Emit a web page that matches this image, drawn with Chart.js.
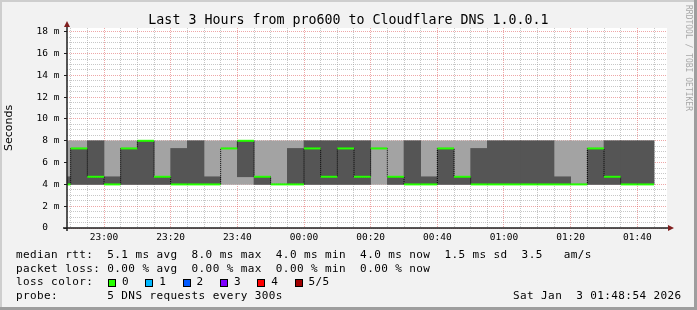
<!DOCTYPE html>
<html>
<head>
<meta charset="utf-8">
<script src="https://cdn.jsdelivr.net/npm/chart.js@4.4.1/dist/chart.umd.min.js"></script>
<style>
  body { margin: 0; background: #f2f2f2; }
  #wrap { position: relative; width: 697px; height: 310px; overflow: hidden; }
  #wrap canvas { position: absolute; left: 0; top: 0; }
  .txt { position: absolute; margin: 0; font-family: 'DejaVu Sans Mono', monospace; color: #000; white-space: pre; }
  #title { left: 0; width: 697px; top: 13px; text-align: center; font-size: 13.3px; line-height: 13.3px; }
  .row { left: 16px; font-size: 11px; line-height: 11px; letter-spacing: 0.4px; }
  #brand { left: 684px; top: 5px; font-size: 8px; line-height: 8px; color: #a8a8a8; writing-mode: vertical-rl; }
  .box { position: absolute; width: 6px; height: 6px; border: 1px solid #000; }
</style>
</head>
<body>
<div id="wrap">
  <canvas id="rtt" width="697" height="310"></canvas>
  <div class="txt" id="title">Last 3 Hours from pro600 to Cloudflare DNS 1.0.0.1</div>
  <div class="txt" id="brand">RRDTOOL / TOBI OETIKER</div>
  <div class="txt row" style="top:249px">median rtt:  5.1 ms avg  8.0 ms max  4.0 ms min  4.0 ms now  1.5 ms sd  3.5   am/s</div>
  <div class="txt row" style="top:262.7px">packet loss: 0.00 % avg  0.00 % max  0.00 % min  0.00 % now</div>
  <div class="txt row" style="top:276.4px">loss color:</div>
  <div class="txt row" style="top:290px">probe:       5 DNS requests every 300s</div>
  <div class="txt row" style="top:290px; left:513px">Sat Jan  3 01:48:54 2026</div>
  <div id="lossLegend"></div>
</div>
<script>
// 5 minute slots (start times) shown in the graph
const slots = ['22:45','22:50','22:55','23:00','23:05','23:10','23:15','23:20','23:25','23:30',
               '23:35','23:40','23:45','23:50','23:55','00:00','00:05','00:10','00:15','00:20',
               '00:25','00:30','00:35','00:40','00:45','00:50','00:55','01:00','01:05','01:10',
               '01:15','01:20','01:25','01:30','01:35','01:40'];
// smoke: outer band (min..max) and inner band, in ms
const minRtt = [4,4,4,4,4,4,4,4,4,4, 4,4,4,4,4,4,4,4,4,4, 4,4,4,4,4,4,4,4,4,4, 4,4,4,4,4,4];
const maxRtt = [8,8,8,8,8,8,8,8,8,8, 8,8,8,8,8,8,8,8,8,8, 8,8,8,8,8,8,8,8,8,8, 8,8,8,8,8,8];
const innerLow  = [4,4,4,4,4,4,4,4,4,4, null,4.7,4,null,4,4,4,4,4,null, 4,4,4,4,4,4,4,4,4,4, 4,null,4,4,4,4];
const innerHigh = [4.7,7.3,8,4.7,7.3,8,4.7,7.3,8,4.7, null,8,4.7,null,7.3,8,8,8,8,null, 4.7,8,4.7,7.3,4.7,7.3,8,8,8,8, 4.7,null,7.3,8,8,8];
const medianRtt = [4,7.3,4.7,4,7.3,8,4.7,4,4,4, 7.3,8,4.7,4,4,7.3,4.7,7.3,4.7,7.3, 4.7,4,4,7.3,4.7,4,4,4,4,4, 4,4,7.3,4.7,4,4];

const xLabels = ['23:00','23:20','23:40','00:00','00:20','00:40','01:00','01:20','01:40'];
const yLabels = ['0  ','2 m','4 m','6 m','8 m','10 m','12 m','14 m','16 m','18 m'];
const rangeStart = '22:48:54';
const rangeEnd = '01:48:54';
const slotMinutes = 5;

const lossLabels = ['0','1','2','3','4','5/5'];
const lossColors = ['#26ff00','#00b8ff','#0059ff','#7e00ff','#ff0000','#a10000'];

// minutes since 22:00
function toMin(t) {
  const p = t.split(':').map(Number);
  let h = p[0];
  if (h < 12) h += 24;
  return (h - 22) * 60 + p[1] + (p[2] || 0) / 60;
}
function fmt(v) {
  const h = (22 + Math.floor(v / 60)) % 24;
  const m = Math.round(v % 60);
  return String(h).padStart(2, '0') + ':' + String(m).padStart(2, '0');
}

const centers = slots.map(s => toMin(s) + slotMinutes / 2);
const outer = centers.map((x, i) => ({x, y: [minRtt[i], maxRtt[i]]}));
const inner = centers.map((x, i) => ({x, y: innerLow[i] === null ? null : [innerLow[i], innerHigh[i]]}));
const med = centers.map((x, i) => ({x, y: medianRtt[i]}));

// loss colour boxes
const lossDiv = document.getElementById('lossLegend');
lossLabels.forEach((lab, i) => {
  const b = document.createElement('div');
  b.className = 'box';
  b.style.left = (108 + i * 37.3) + 'px';
  b.style.top = '279px';
  b.style.background = lossColors[i];
  lossDiv.appendChild(b);
  const t = document.createElement('div');
  t.className = 'txt row';
  t.style.left = (122 + i * 37.3) + 'px';
  t.style.top = '276.4px';
  t.textContent = lab;
  lossDiv.appendChild(t);
});

const minorGrid = 'rgba(143,143,143,0.5)';
const majorGrid = 'rgba(222,79,79,0.5)';

const rrdFrame = {
  id: 'rrdFrame',
  beforeDraw(chart) {
    const {ctx, chartArea: a, width, height} = chart;
    ctx.save();
    ctx.fillStyle = '#f2f2f2';
    ctx.fillRect(0, 0, width, height);
    ctx.fillStyle = '#cecece';
    ctx.fillRect(0, 0, width, 2);
    ctx.fillRect(0, 0, 2, height);
    ctx.fillStyle = '#9e9e9e';
    ctx.fillRect(0, height - 3, width, 3);
    ctx.fillRect(width - 3, 0, 3, height);
    ctx.fillStyle = '#ffffff';
    ctx.fillRect(a.left, a.top, a.right - a.left, a.bottom - a.top);
    ctx.restore();
  },
  afterDraw(chart) {
    const {ctx, chartArea: a} = chart;
    ctx.save();
    ctx.strokeStyle = '#1f1f1f';
    ctx.lineWidth = 1.5;
    ctx.beginPath();
    ctx.moveTo(a.left - 4, a.bottom);
    ctx.lineTo(a.right + 2, a.bottom);
    ctx.moveTo(a.left, a.bottom + 3);
    ctx.lineTo(a.left, a.top - 2);
    ctx.stroke();
    ctx.fillStyle = '#801f1f';
    ctx.beginPath();
    ctx.moveTo(a.left - 3, a.top - 1);
    ctx.lineTo(a.left + 3, a.top - 1);
    ctx.lineTo(a.left, a.top - 7);
    ctx.fill();
    ctx.beginPath();
    ctx.moveTo(a.right + 1, a.bottom - 3);
    ctx.lineTo(a.right + 1, a.bottom + 3);
    ctx.lineTo(a.right + 7, a.bottom);
    ctx.fill();
    ctx.restore();
  }
};

Chart.defaults.font.family = "'DejaVu Sans Mono', monospace";
Chart.defaults.color = '#000';

const ctx = document.getElementById('rtt');
const rttChart = new Chart(ctx, {
  type: 'scatter',
  data: {
    datasets: [{
      type: 'scatter',
      data: med,
      showLine: false,
      pointStyle: 'line',
      radius: (c) => {
        const s = c.chart.scales.x;
        return Math.abs(s.getPixelForValue(slotMinutes) - s.getPixelForValue(0)) / 2;
      },
      borderColor: lossColors[0],
      backgroundColor: lossColors[0],
      borderWidth: 2,
      clip: 0
    }, {
      type: 'line',
      data: med,
      stepped: 'middle',
      borderColor: '#000',
      borderWidth: 1,
      borderDash: [1, 1],
      pointRadius: 0,
      fill: false,
      clip: 0
    }, {
      type: 'bar',
      data: inner,
      backgroundColor: '#555555',
      borderWidth: 0,
      grouped: false,
      barPercentage: 1,
      categoryPercentage: 1,
      clip: 0
    }, {
      type: 'bar',
      data: outer,
      backgroundColor: '#a3a3a3',
      borderWidth: 0,
      grouped: false,
      barPercentage: 1,
      categoryPercentage: 1,
      clip: 0
    }]
  },
  options: {
    responsive: false,
    devicePixelRatio: 1,
    animation: false,
    events: [],
    layout: { padding: { left: 0, top: 28, right: 30, bottom: 62 } },
    plugins: { legend: { display: false }, tooltip: { enabled: false } },
    scales: {
      x: {
        type: 'linear',
        z: 1,
        offset: false,
        min: toMin(rangeStart),
        max: toMin(rangeEnd),
        afterBuildTicks: (s) => {
          const t = [];
          for (let v = Math.ceil(s.min / slotMinutes) * slotMinutes; v <= s.max; v += slotMinutes) t.push({value: v});
          s.ticks = t;
        },
        afterFit: (s) => { s.height = 20; },
        ticks: {
          autoSkip: false,
          maxRotation: 0,
          padding: 4,
          font: { size: 9.5 },
          callback: (v) => xLabels.includes(fmt(v)) ? fmt(v) : ''
        },
        grid: {
          offset: false,
          drawTicks: false,
          lineWidth: 1,
          color: (c) => c.tick && Math.round(c.tick.value) % 20 === 0 ? majorGrid : minorGrid
        },
        border: { display: false, dash: [1, 1] }
      },
      y: {
        type: 'linear',
        z: 1,
        min: 0,
        max: 200 / 10.9,
        afterBuildTicks: (s) => {
          const t = [];
          for (let v = 0; v <= 18; v += 0.5) t.push({value: v});
          s.ticks = t;
        },
        afterFit: (s) => { s.width = 67; },
        title: {
          display: true,
          text: 'Seconds',
          font: { family: "'DejaVu Sans', sans-serif", size: 11 },
          padding: { top: 3, bottom: 0 }
        },
        ticks: {
          autoSkip: false,
          padding: 4.5,
          font: { size: 9.5 },
          callback: (v) => v % 2 === 0 ? yLabels[v / 2] : ''
        },
        grid: {
          drawTicks: true,
          tickLength: 3,
          lineWidth: 1,
          tickColor: (c) => c.tick && c.tick.value % 2 === 0 ? '#1f1f1f' : 'rgba(0,0,0,0)',
          color: (c) => c.tick && c.tick.value % 2 === 0 ? majorGrid : minorGrid
        },
        border: { display: false, dash: [1, 1] }
      }
    }
  },
  plugins: [rrdFrame]
});
</script>
</body>
</html>
